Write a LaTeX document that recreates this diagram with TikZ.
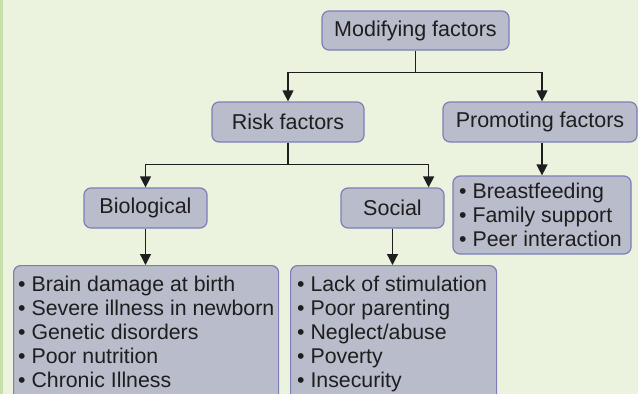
\documentclass[tikz,border=0pt]{standalone}
\usepackage{fontspec}
\setmainfont{Liberation Sans}
\usetikzlibrary{arrows.meta,calc}
\definecolor{bgc}{RGB}{235,243,223}
\definecolor{barc}{RGB}{198,224,170}
\definecolor{boxfill}{RGB}{185,188,202}
\definecolor{boxdraw}{RGB}{125,126,184}
\definecolor{linec}{RGB}{30,30,30}
\tikzset{
  box/.style={draw=boxdraw, fill=boxfill, line width=1.2pt, rounded corners=7pt,
    inner sep=0pt, font=\fontsize{21.5}{24}\selectfont, text=linec},
  listtext/.style={inner sep=0pt, align=left, font=\fontsize{21.3}{24}\selectfont, text=linec},
  arr/.style={draw=linec, line width=1.2pt, -{Triangle[width=11pt,length=11pt]}},
  conn/.style={draw=linec, line width=1.2pt}
}
\begin{document}
\begin{tikzpicture}[x=1pt,y=-1pt]
\useasboundingbox (0,0) rectangle (638,394);
\clip (0,0) rectangle (638,394);
\fill[bgc] (0,0) rectangle (638,394);
\fill[barc] (0,0) rectangle (3,394);

\node[box, minimum width=187pt, minimum height=39pt] (mod) at (415.5,30.5) {Modifying factors};
\node[box, minimum width=152pt, minimum height=40pt] (risk) at (288,122) {Risk factors};
\node[box, minimum width=194pt, minimum height=40pt] (prom) at (540,122) {Promoting factors};
\node[box, minimum width=123pt, minimum height=40pt] (bio) at (145.5,208) {Biological};
\node[box, minimum width=103pt, minimum height=40pt] (soc) at (392.5,208) {Social};

\node[box, minimum width=178pt, minimum height=78pt] (promlist) at (542,215) {};
\node[box, minimum width=265pt, minimum height=150pt, anchor=north west] (biolist) at (13,265) {};
\node[box, minimum width=206pt, minimum height=150pt, anchor=north west] (soclist) at (290,265) {};

% base anchor of a multi-line node = baseline of its last line
\node[listtext, anchor=base west] (promtext) at (459,246)
  {• Breastfeeding\\• Family support\\• Peer interaction};
\node[listtext, anchor=base west] (biotext) at (18,387.5)
  {• Brain damage at birth\\• Severe illness in newborn\\• Genetic disorders\\• Poor nutrition\\• Chronic Illness};
\node[listtext, anchor=base west] (soctext) at (297,387.5)
  {• Lack of stimulation\\• Poor parenting\\• Neglect/abuse\\• Poverty\\• Insecurity};

\coordinate (j1) at ($(mod.south)+(0,22)$);
\coordinate (j2) at ($(risk.south)+(0,22)$);
\coordinate (socin) at ($(soc.north east)+(-16,0)$);
\coordinate (promin) at (promlist.north |- prom.north);

\draw[conn] (mod.south) -- (j1);
\draw[arr] (j1) -| (risk.north);
\draw[arr] (j1) -| (promin);
\draw[arr] (promlist.north |- prom.south) -- (promlist.north);

\draw[conn] (risk.south) -- (j2);
\draw[arr] (j2) -| (bio.north);
\draw[arr] (j2) -| (socin);

\draw[arr] (bio.south) -- (bio.south |- biolist.north);
\draw[arr] (soc.south) -- (soc.south |- soclist.north);
\end{tikzpicture}
\end{document}
